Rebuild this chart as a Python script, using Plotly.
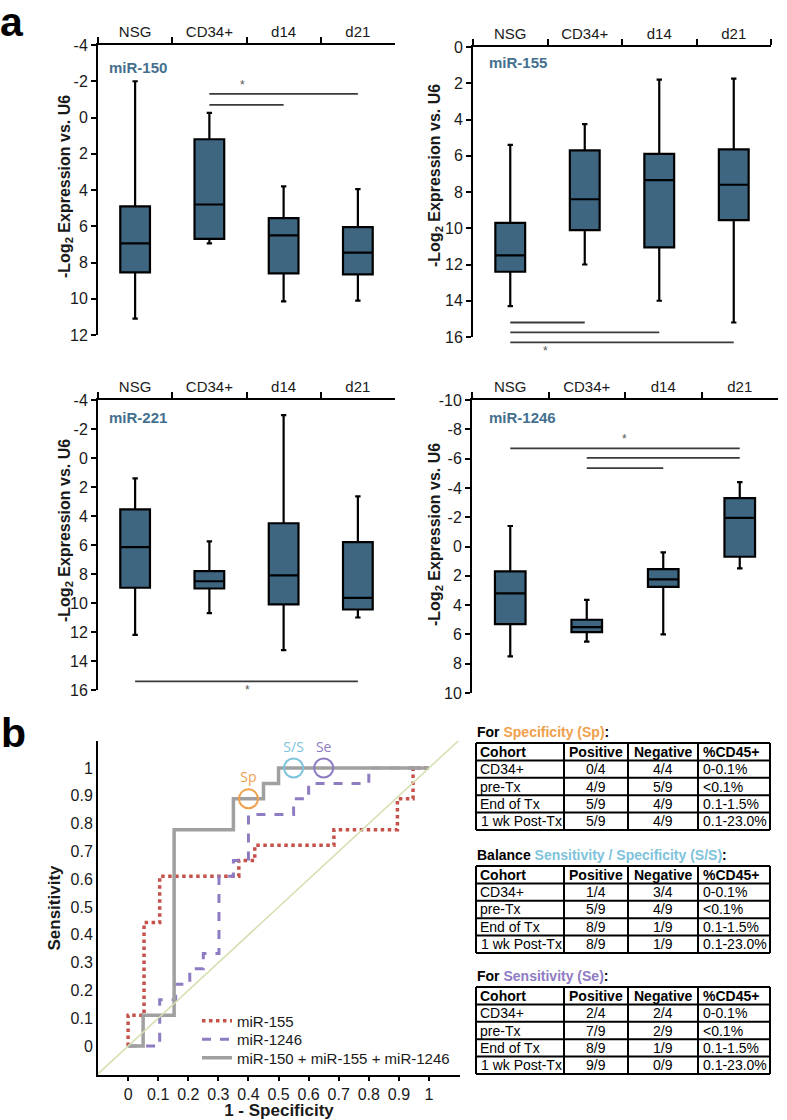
import plotly.graph_objects as go

W, H = 787, 1120
FONT = "Arial, Liberation Sans, sans-serif"

# ---------------- data: panel a ----------------
categories = ["NSG", "CD34+", "d14", "d21"]

mir150_min = [-2.0, -0.25, 3.8, 3.95]
mir150_q1 = [4.9, 1.2, 5.55, 6.05]
mir150_med = [6.95, 4.8, 6.5, 7.45]
mir150_q3 = [8.55, 6.7, 8.6, 8.65]
mir150_max = [11.1, 6.95, 10.15, 10.1]
mir150_sig_from = ["CD34+", "CD34+"]
mir150_sig_to = ["d21", "d14"]
mir150_sig_y = [-1.3, -0.7]

mir155_min = [5.4, 4.25, 1.8, 1.75]
mir155_q1 = [9.7, 5.7, 5.9, 5.65]
mir155_med = [11.5, 8.4, 7.35, 7.6]
mir155_q3 = [12.4, 10.1, 11.05, 9.55]
mir155_max = [14.3, 12.0, 14.0, 15.2]
mir155_sig_from = ["NSG", "NSG", "NSG"]
mir155_sig_to = ["CD34+", "d14", "d21"]
mir155_sig_y = [15.2, 15.75, 16.3]

mir221_min = [1.4, 5.75, -2.95, 2.65]
mir221_q1 = [3.55, 7.8, 4.5, 5.8]
mir221_med = [6.15, 8.5, 8.1, 9.65]
mir221_q3 = [8.95, 9.0, 10.1, 10.45]
mir221_max = [12.2, 10.7, 13.25, 11.0]
mir221_sig_from = ["NSG"]
mir221_sig_to = ["d21"]
mir221_sig_y = [15.4]

mir1246_min = [-1.4, 3.65, 0.4, -4.4]
mir1246_q1 = [1.7, 5.0, 1.55, -3.3]
mir1246_med = [3.2, 5.5, 2.25, -1.95]
mir1246_q3 = [5.3, 5.85, 2.75, 0.7]
mir1246_max = [7.5, 6.5, 6.0, 1.5]
mir1246_sig_from = ["NSG", "CD34+", "CD34+"]
mir1246_sig_to = ["d21", "d21", "d14"]
mir1246_sig_y = [-6.7, -6.05, -5.35]

# ---------------- data: panel b ----------------
roc155_fpr = [0, 0, 0.053, 0.105, 0.368, 0.421, 0.684, 0.895, 0.947, 1.0]
roc155_tpr = [0, 0.111, 0.444, 0.611, 0.667, 0.722, 0.778, 0.889, 1.0, 1.0]
roc1246_fpr = [0, 0.105, 0.158, 0.205, 0.25, 0.302, 0.35, 0.4, 0.55, 0.6, 0.8, 1.0]
roc1246_tpr = [0, 0.167, 0.222, 0.278, 0.333, 0.611, 0.667, 0.833, 0.889, 0.944, 1.0, 1.0]
rocall_fpr = [0, 0.05, 0.153, 0.35, 0.45, 0.5, 1.0]
rocall_tpr = [0, 0.111, 0.778, 0.889, 0.944, 1.0, 1.0]

cutoff_labels = ["Sp", "S/S", "Se"]
cutoff_fpr = [0.4, 0.55, 0.65]
cutoff_tpr = [0.889, 1.0, 1.0]
cutoff_colors = ["#f0a04b", "#7ec3dc", "#8e7cc3"]

roc_ticks = [0, 0.1, 0.2, 0.3, 0.4, 0.5, 0.6, 0.7, 0.8, 0.9, 1]
roc_ticktext = ["0", "0.1", "0.2", "0.3", "0.4", "0.5", "0.6", "0.7", "0.8", "0.9", "1"]

table_columns = ["Cohort", "Positive", "Negative", "%CD45+"]
cohorts = ["CD34+", "pre-Tx", "End of Tx", "1 wk Post-Tx"]
cd45_ranges = ["0-0.1%", "<0.1%", "0.1-1.5%", "0.1-23.0%"]
sp_positive = ["0/4", "4/9", "5/9", "5/9"]
sp_negative = ["4/4", "5/9", "4/9", "4/9"]
ss_positive = ["1/4", "5/9", "8/9", "8/9"]
ss_negative = ["3/4", "4/9", "1/9", "1/9"]
se_positive = ["2/4", "7/9", "8/9", "9/9"]
se_negative = ["2/4", "2/9", "1/9", "0/9"]

BOX_FILL = "#3e6680"
LABEL_BLUE = "#44708f"
TXT = "#1a1a1a"
YTITLE = "<b>-Log<sub>2</sub> Expression vs. U6</b>"


def fx(px):
    return px / W


def fy(py):
    return 1 - py / H


fig = go.Figure()

panels = [
    # name, n, x px, y px, y range, stats, comparisons, label pos, star, title center (px)
    ("miR-150", 1, (98, 395), (45, 335), [12, -4],
     (mir150_min, mir150_q1, mir150_med, mir150_q3, mir150_max),
     (mir150_sig_from, mir150_sig_to, mir150_sig_y), (0.03, 0.924), (1.45, "above"), (66, 187)),
    ("miR-155", 2, (473, 771), (47, 337), [16, 0],
     (mir155_min, mir155_q1, mir155_med, mir155_q3, mir155_max),
     (mir155_sig_from, mir155_sig_to, mir155_sig_y), (0.047, 0.945), (0.47, "below"), (435, 176)),
    ("miR-221", 3, (98, 395), (400, 690), [16, -4],
     (mir221_min, mir221_q1, mir221_med, mir221_q3, mir221_max),
     (mir221_sig_from, mir221_sig_to, mir221_sig_y), (0.03, 0.94), (1.52, "below"), (65, 531)),
    ("miR-1246", 4, (472, 778), (400, 693), [10, -10],
     (mir1246_min, mir1246_q1, mir1246_med, mir1246_q3, mir1246_max),
     (mir1246_sig_from, mir1246_sig_to, mir1246_sig_y), (0.05, 0.94), (1.49, "above"), (435, 535)),
]

annotations = []
shapes = []
layout_axes = {}


def axname(n):
    return "" if n == 1 else str(n)


for name, n, xpx, ypx, yrange, stats, sig, lab, star, tpos in panels:
    sfx = axname(n)
    xa, ya = "x" + sfx, "y" + sfx
    mn, q1, med, q3, mx = stats
    fig.add_trace(go.Box(
        x=categories, lowerfence=mn, q1=q1, median=med, q3=q3, upperfence=mx,
        fillcolor=BOX_FILL, line=dict(color="black", width=2.2), width=0.4,
        whiskerwidth=0.18, boxpoints=False, showlegend=False,
        xaxis=xa, yaxis=ya, hoverinfo="skip"))
    lo, hi = min(yrange), max(yrange)
    tvals = list(range(int(lo), int(hi) + 1, 2))
    layout_axes["xaxis" + sfx] = dict(
        domain=[fx(xpx[0]), fx(xpx[1])], anchor=ya, side="top", type="category",
        categoryorder="array", categoryarray=categories, range=[-0.5, 3.5],
        tickson="boundaries", ticks="outside", ticklen=6, tickwidth=2, tickcolor="black",
        showline=True, linewidth=2, linecolor="black", showgrid=False, zeroline=False,
        tickfont=dict(family=FONT, size=15, color=TXT), automargin=False)
    layout_axes["yaxis" + sfx] = dict(
        domain=[fy(ypx[1]), fy(ypx[0])], anchor=xa, range=yrange,
        tickvals=tvals, ticktext=[str(v) for v in tvals],
        ticks="outside", ticklen=5, tickwidth=2, tickcolor="black",
        showline=True, linewidth=2, linecolor="black", showgrid=False, zeroline=False,
        tickfont=dict(family=FONT, size=16, color=TXT), automargin=False)
    annotations.append(dict(xref="paper", yref="paper", x=fx(tpos[0]), y=fy(tpos[1]),
                            xanchor="center", yanchor="middle", textangle=-90,
                            showarrow=False, text=YTITLE,
                            font=dict(family=FONT, size=16, color=TXT)))
    annotations.append(dict(xref=xa + " domain", yref=ya + " domain", x=lab[0], y=lab[1],
                            xanchor="left", yanchor="middle", showarrow=False,
                            text="<b>%s</b>" % name,
                            font=dict(family=FONT, size=15, color=LABEL_BLUE)))

    # helper (invisible) axes: same scale, range extended so comparison bars are never clipped
    hn = n + 5
    hx, hy = "x%d" % hn, "y%d" % hn
    ppu = (ypx[1] - ypx[0]) / (hi - lo)
    ext = 1.5
    layout_axes["xaxis%d" % hn] = dict(domain=[fx(xpx[0]), fx(xpx[1])], anchor=hy,
                                       range=[-0.5, 3.5], visible=False)
    layout_axes["yaxis%d" % hn] = dict(domain=[fy(ypx[1] + ext * ppu), fy(ypx[0] - ext * ppu)],
                                       anchor=hx, range=[hi + ext, lo - ext], visible=False)
    froms, tos, ys = sig
    for a, b, v in zip(froms, tos, ys):
        fig.add_trace(go.Scatter(x=[categories.index(a), categories.index(b)], y=[v, v],
                                 mode="lines", line=dict(color="#3a3a3a", width=1.8),
                                 showlegend=False, hoverinfo="skip", xaxis=hx, yaxis=hy))
    if star[1] == "above":
        annotations.append(dict(xref=hx, yref=hy, x=star[0], y=min(ys), text="*",
                                yanchor="bottom", showarrow=False,
                                font=dict(family=FONT, size=12, color="#555555")))
    else:
        annotations.append(dict(xref=hx, yref=hy, x=star[0], y=max(ys), text="*",
                                yanchor="top", showarrow=False,
                                font=dict(family=FONT, size=12, color="#555555")))

# ---------------- ROC ----------------
roc_xrange = [-0.1, 1.103]
roc_yrange = [-0.104, 1.097]

fig.add_trace(go.Scatter(x=roc155_fpr, y=roc155_tpr, mode="lines", name="miR-155",
                         line=dict(color="#c4524b", width=3.5, dash="dot", shape="hv"),
                         xaxis="x5", yaxis="y5", legend="legend"))
fig.add_trace(go.Scatter(x=roc1246_fpr, y=roc1246_tpr, mode="lines", name="miR-1246",
                         line=dict(color="#8e7cc3", width=3, dash="dash", shape="hv"),
                         xaxis="x5", yaxis="y5", legend="legend2"))
fig.add_trace(go.Scatter(x=rocall_fpr, y=rocall_tpr, mode="lines",
                         name="miR-150 + miR-155 + miR-1246",
                         line=dict(color="#a0a0a0", width=3.5, shape="hv"),
                         xaxis="x5", yaxis="y5", legend="legend3"))
fig.add_trace(go.Scatter(x=roc_xrange, y=roc_xrange, mode="lines", showlegend=False,
                         line=dict(color="#d3dfae", width=1.5), xaxis="x5", yaxis="y5"))
fig.add_trace(go.Scatter(x=cutoff_fpr, y=cutoff_tpr, mode="markers+text", text=cutoff_labels,
                         textposition="top center", showlegend=False,
                         textfont=dict(family="Open Sans", size=14, color=cutoff_colors),
                         marker=dict(symbol="circle-open", size=19, color=cutoff_colors,
                                     line=dict(width=2)),
                         xaxis="x5", yaxis="y5", cliponaxis=False))

layout_axes["xaxis5"] = dict(
    domain=[fx(98), fx(460)], anchor="y5", range=roc_xrange, tickvals=roc_ticks,
    ticktext=roc_ticktext, ticks="outside", ticklen=4, tickwidth=1.5, tickcolor="black",
    showline=True, linewidth=2, linecolor="black", showgrid=False, zeroline=False,
    tickfont=dict(family=FONT, size=16, color=TXT), automargin=False,
    title=dict(text="<b>1 - Specificity</b>", font=dict(family=FONT, size=17, color=TXT),
               standoff=2))
layout_axes["yaxis5"] = dict(
    domain=[fy(1075), fy(741)], anchor="x5", range=roc_yrange, tickvals=roc_ticks,
    ticktext=roc_ticktext, ticks="", showline=True, linewidth=2, linecolor="black",
    showgrid=False, zeroline=False, tickfont=dict(family=FONT, size=16, color=TXT),
    automargin=False,
    title=dict(text="<b>Sensitivity</b>", font=dict(family=FONT, size=17, color=TXT),
               standoff=6))

# ---------------- tables (grid + text) ----------------
col_w = [88, 64, 70, 72]
col_align = ["left", "center", "center", "left"]
row_h = 17.4
tab_left = 476


def esc(s):
    return s.replace("<", "&lt;")


tables = [
    (743, "For", "Specificity (Sp)", "#f0a04b", sp_positive, sp_negative),
    (866, "Balance", "Sensitivity / Specificity (S/S)", "#7ec3dc", ss_positive, ss_negative),
    (987, "For", "Sensitivity (Se)", "#8e7cc3", se_positive, se_negative),
]
for top, lead, colored, color, pos, neg in tables:
    rows = [["<b>%s</b>" % esc(c) for c in table_columns]]
    for r in range(len(cohorts)):
        rows.append([esc(cohorts[r]), pos[r], neg[r], esc(cd45_ranges[r])])
    n_rows = len(rows)
    edges = [tab_left]
    for w in col_w:
        edges.append(edges[-1] + w)
    bottom = top + n_rows * row_h
    for i in range(n_rows + 1):
        yy = top + i * row_h
        shapes.append(dict(type="line", xref="paper", yref="paper", x0=fx(edges[0]), x1=fx(edges[-1]),
                           y0=fy(yy), y1=fy(yy), line=dict(color="black", width=2)))
    for e in edges:
        shapes.append(dict(type="line", xref="paper", yref="paper", x0=fx(e), x1=fx(e),
                           y0=fy(top), y1=fy(bottom), line=dict(color="black", width=2)))
    for i, row in enumerate(rows):
        yc = top + (i + 0.5) * row_h
        for j, val in enumerate(row):
            if col_align[j] == "left":
                xx, xanc = edges[j] + 2.5, "left"
            else:
                xx, xanc = (edges[j] + edges[j + 1]) / 2, "center"
            annotations.append(dict(xref="paper", yref="paper", x=fx(xx), y=fy(yc),
                                    xanchor=xanc, yanchor="middle", showarrow=False, text=val,
                                    font=dict(family=FONT, size=14, color="black")))
    annotations.append(dict(xref="paper", yref="paper", x=fx(475), y=fy(top - 11),
                            xanchor="left", yanchor="middle", showarrow=False,
                            text="<b>%s <span style='color:%s'>%s</span>:</b>" % (lead, color, colored),
                            font=dict(family=FONT, size=14, color="black")))

# panel letters
annotations.append(dict(xref="paper", yref="paper", x=fx(-2), y=fy(22), xanchor="left",
                        yanchor="middle", showarrow=False, text="<b>a</b>",
                        font=dict(family=FONT, size=41, color="black")))
annotations.append(dict(xref="paper", yref="paper", x=fx(-1), y=fy(733), xanchor="left",
                        yanchor="middle", showarrow=False, text="<b>b</b>",
                        font=dict(family=FONT, size=41, color="black")))

legend_rows_px = [1021, 1039.5, 1058]
legend_style = dict(xanchor="left", yanchor="middle", bgcolor="rgba(0,0,0,0)",
                    font=dict(family=FONT, size=15, color=TXT), itemwidth=30)

fig.update_layout(
    width=W, height=H, margin=dict(l=0, r=0, t=0, b=0),
    paper_bgcolor="white", plot_bgcolor="rgba(0,0,0,0)", template="none",
    font=dict(family=FONT, color="black"),
    annotations=annotations, shapes=shapes,
    legend=dict(x=fx(197), y=fy(legend_rows_px[0]), **legend_style),
    legend2=dict(x=fx(197), y=fy(legend_rows_px[1]), **legend_style),
    legend3=dict(x=fx(197), y=fy(legend_rows_px[2]), **legend_style),
    **layout_axes)

fig.write_html("out.html", post_script="document.body.style.margin='0';",
               config={"displayModeBar": False})
